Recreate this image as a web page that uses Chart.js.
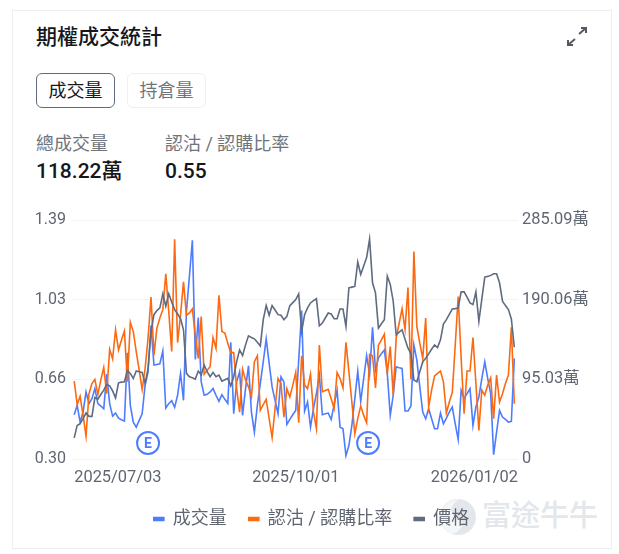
<!DOCTYPE html>
<html lang="zh-Hant">
<head>
<meta charset="utf-8">
<title>期權成交統計</title>
<script src="https://cdn.jsdelivr.net/npm/chart.js@4"></script>
<style>
  html, body { margin: 0; padding: 0; background: #fff; }
  body { width: 619px; height: 554px; position: relative; overflow: hidden;
    font-family: Roboto, "Noto Sans CJK TC", sans-serif; }
  .card { position: absolute; left: 12px; top: 10px; width: 598px; height: 537px;
    border: 1px solid #eceef0; background: #fff; }
  .abs { position: absolute; white-space: nowrap; line-height: 1; }
  .title { left: 36px; top: 27px; font-size: 21px; font-weight: 500; color: #14171c; }
  .tab { top: 73px; width: 79px; height: 35px; box-sizing: border-box; border-radius: 6px;
    font-size: 18px; line-height: 34px; text-align: center; }
  .tab.on { left: 36px; border: 1.5px solid #5f6b80; color: #14171c; }
  .tab.off { left: 127px; border: 1.5px solid #eef0f2; color: #6f747c; }
  .stat-label { top: 135px; font-size: 18px; color: #6f747c; }
  .stat-value { top: 161px; font-size: 21px; font-weight: 500; color: #14171c; }
  .expand { position: absolute; left: 566px; top: 26px; }
  .wm-logo { position: absolute; left: 439px; top: 498px; }
  .wm-text { left: 482px; top: 502px; font-size: 29px; font-weight: 500; color: #e3e7eb; }
  #wrap { position: absolute; left: 33px; top: 208px; width: 557px; height: 330px; }
</style>
</head>
<body>
<div class="card"></div>
<div class="abs title">期權成交統計</div>
<svg class="expand" width="22" height="22" viewBox="0 0 22 22" fill="none" stroke="#555a62" stroke-width="2">
  <path d="M13 8 L20 2 M15 2 H20 V7"/>
  <path d="M9 13 L2 19 M2 14 V19 H7"/>
</svg>
<div class="abs tab on">成交量</div>
<div class="abs tab off">持倉量</div>
<div class="abs stat-label" style="left:36px">總成交量</div>
<div class="abs stat-label" style="left:165px">認沽 / 認購比率</div>
<div class="abs stat-value" style="left:36px">118.22萬</div>
<div class="abs stat-value" style="left:165px">0.55</div>

<svg class="wm-logo" width="38" height="38" viewBox="0 0 38 38">
  <circle cx="19" cy="19" r="18" fill="#e3e7eb"/>
  <path d="M20 1 C10 8 10 16 19 20 C26 24 24 32 14 36 C6 33 1 27 1 19 C1 10 9 2 20 1 Z" fill="#f4f6f7"/>
</svg>
<div class="abs wm-text">富途牛牛</div>

<div id="wrap"><canvas id="chart-options"></canvas></div>

<script>
const tradingDays = [
  0,1,2,3,4,5,6,7,8,9,10,11,12,13,14,15,16,17,18,19,20,21,22,23,24,25,26,27,28,29,
  30,31,32,33,34,35,36,37,38,39,40,41,42,43,44,45,46,47,48,49,50,51,52,53,54,55,56,57,58,59,
  60,61,62,63,64,65,66,67,68,69,70,71,72,73,74,75,76,77,78,79,80,81,82,83,84,85,86,87,88,89,
  90,91,92,93,94,95,96,97,98,99,100,101,102,103,104,105,106,107,108,109,110,111,112,113,114,115,116,117,118,119,
  120,121,122,123,124,125,126,127,128,129,130,131,132,133,134,135,136,137,138,139,140,141,142,143,144,145,146,147,148,149
]

const dateTicks = [0, 75, 150.25]
const dateLabels = ['2025/07/03', '2025/10/01', '2026/01/02']
const ratioTicks = [0.30, 0.6633, 1.0267, 1.39]
const volumeTicks = [0, 95.03, 190.06, 285.09]
const earningsDays = [25, 99.5]

// 成交量 (萬)
const volume = [
  52.8,64,44,56,80,66,72,84,66,63.2,60,101.2,66,51.2,54.8,48.8,46.8,45.2,126.8,64,44,38,46,54,88,104,159.2,112,112.8,113.6,
  128.8,60.8,66,69.6,61.6,76,102,70,176,218,260.8,118.8,168.8,92,76,77.2,80,84,76,68.8,76.8,71.2,66.4,139.2,54,92,104,52,84,111.2,
  56,32,64,90,116,143.2,114,86,70,54,98,92,41.2,47.2,52.8,58,117.6,177.2,57.2,68,38,60,78,100,52.8,54,54.8,47.2,64.8,82,
  38,36,4,16,40,72,104.8,68.8,96,123.2,100.8,157.2,106,120.8,125.6,130,102,52,76,110,108.8,108,57.2,57.2,63.2,136,118,86,56,48,
  60,48,36,36,54.8,42,48.8,56,62,42,23.2,82,72,78,84,40,62,74,96,116,96,78,5.2,32,58,50,47.2,44,44.8,120
]

// 認沽 / 認購比率
const putCallRatio = [
  .655,.548,.586,.499,.404,.598,.644,.663,.594,.660,.718,.598,.800,.756,.889,.797,.843,.884,.652,.924,.881,.790,.705,.617,.713,.851,1.039,.774,.897,.943,
  .981,1.145,.973,.790,1.302,.831,.958,1.108,.955,.966,.985,.866,.759,.950,.687,.705,.721,.854,.805,1.047,.881,.874,.828,.785,.785,.621,.514,.709,.660,.629,
  .583,.744,.771,.522,.548,.572,.484,.398,.530,.667,.644,.491,.621,.583,.637,.695,.465,.771,.637,.621,.687,.514,.438,.820,.606,.612,.618,.575,.530,.695,
  .667,.624,.832,.698,.560,.415,.484,.542,.499,.465,.777,.771,.624,.820,.843,.869,.687,.813,.591,.851,.918,.985,.892,1.082,.664,1.246,.904,.828,.759,.943,
  .537,.614,.679,.690,.701,.652,.510,.560,.603,.820,1.041,.759,.507,.701,.701,.854,.644,.430,.614,.591,.637,.670,.484,.683,.560,.598,.644,.683,.901,.552
]

// 價格, plotted on its own hidden axis
const price = [
  23.15,25,25.25,26,26.85,26.35,26.35,29.15,28.9,29.6,30.25,31.1,30.9,30.15,29.1,31.35,31.45,31.5,33.15,32.75,32,33.1,33,32.9,31.25,33.5,39,41.5,42.1,42.5,
  44.6,42.75,44.6,43.4,42.25,41.6,40.9,39.25,32.75,32.25,32.1,31.9,33.1,32.5,34,33,32.25,32.9,32.25,32.5,31.6,31.8,32,30.9,32.25,34.5,36.25,35.4,37,38.35,
  38.1,37.9,37.4,36.85,40.75,42.85,41.4,42.85,42.2,41.5,41.4,40.75,41.25,42.85,43.3,43.75,44.6,39,41.5,42.5,43.25,43.6,43.9,39.85,40.25,41,41.75,41.6,40.9,40.9,
  42.35,42.35,39.75,45.5,45.6,45.7,49.35,47.5,48.75,50,52.75,46.25,44.75,39.5,40.15,40.75,47.25,46,43.5,38.5,38.9,39.25,37.85,36.5,35.75,31.75,31.5,33,34.5,35,
  35.65,36.35,37,36.6,37.75,40.1,40.75,41.55,42.35,42.4,42.5,44.9,44.9,44.1,43.25,43,44.9,40.5,43.8,47.1,47.2,47.35,47.6,47.6,46.25,43.5,42.85,42.25,40.85,36.65
]

const FONT = 'Roboto, "Noto Sans CJK TC", sans-serif'
const TEXT = '#5f6672'
const BLUE = '#4d7cfe'
const ORANGE = '#fb6a12'
const SLATE = '#5f6b80'

const earningsBadges = {
  id: 'earningsBadges',
  afterDatasetsDraw(chart) {
    const { ctx, scales, chartArea } = chart
    ctx.save()
    earningsDays.forEach(day => {
      const x = scales.x.getPixelForValue(day)
      const y = chartArea.bottom - 16
      ctx.beginPath()
      ctx.arc(x, y, 11, 0, Math.PI * 2)
      ctx.fillStyle = '#fff'
      ctx.fill()
      ctx.lineWidth = 2
      ctx.strokeStyle = BLUE
      ctx.stroke()
      ctx.fillStyle = BLUE
      ctx.font = '700 14px ' + FONT
      ctx.textAlign = 'center'
      ctx.textBaseline = 'middle'
      ctx.fillText('E', x, y + 1)
    })
    ctx.restore()
  }
}

function seriesStyle(color, order) {
  return { borderColor: color, backgroundColor: color, borderWidth: 1.6, pointRadius: 0, tension: 0, order }
}

new Chart(document.getElementById('chart-options'), {
  type: 'line',
  data: {
    labels: tradingDays,
    datasets: [
      { label: '成交量', data: volume, yAxisID: 'y1', ...seriesStyle(BLUE, 3) },
      { label: '認沽 / 認購比率', data: putCallRatio, yAxisID: 'y', ...seriesStyle(ORANGE, 2) },
      { label: '價格', data: price, yAxisID: 'y2', ...seriesStyle(SLATE, 1) },
    ]
  },
  plugins: [earningsBadges],
  options: {
    responsive: true, maintainAspectRatio: false, animation: false,
    layout: { padding: { top: 12 } },
    plugins: {
      tooltip: { enabled: false },
      legend: {
        position: 'bottom',
        labels: {
          color: TEXT, font: { family: FONT, size: 18 }, boxWidth: 10, boxHeight: 3, padding: 22,
          sort: (a, b) => a.datasetIndex - b.datasetIndex
        }
      }
    },
    scales: {
      x: {
        type: 'linear', min: -0.75, max: 150.25,
        grid: { display: false, drawTicks: false }, border: { display: false },
        afterBuildTicks: scale => { scale.ticks = dateTicks.map(value => ({ value })) },
        afterFit: scale => { scale.height = 29 },
        ticks: {
          color: TEXT, font: { family: FONT, size: 16.4, lineHeight: 1 }, padding: 11,
          autoSkip: false, maxRotation: 0, align: 'inner',
          callback: v => dateLabels[dateTicks.indexOf(v)]
        }
      },
      y: {
        position: 'left', min: 0.30, max: 1.39,
        border: { display: false },
        grid: { color: '#f2f3f5', tickColor: 'transparent', tickLength: 6 },
        afterBuildTicks: scale => { scale.ticks = ratioTicks.map(value => ({ value })) },
        afterFit: scale => { scale.width = 39 },
        ticks: {
          color: TEXT, font: { family: FONT, size: 16 }, padding: 0,
          callback: v => v.toFixed(2)
        }
      },
      y1: {
        position: 'right', min: 0, max: 285.09,
        border: { display: false },
        grid: { drawOnChartArea: false, tickColor: 'transparent', tickLength: 4 },
        afterBuildTicks: scale => { scale.ticks = volumeTicks.map(value => ({ value })) },
        afterFit: scale => { scale.width = 72 },
        ticks: {
          color: TEXT, font: { family: FONT, size: 16.4 }, padding: 0,
          callback: v => v === 0 ? '0' : v.toFixed(2) + '萬'
        }
      },
      y2: { display: false, min: 20, max: 55.6 }
    }
  }
})
</script>
</body>
</html>
